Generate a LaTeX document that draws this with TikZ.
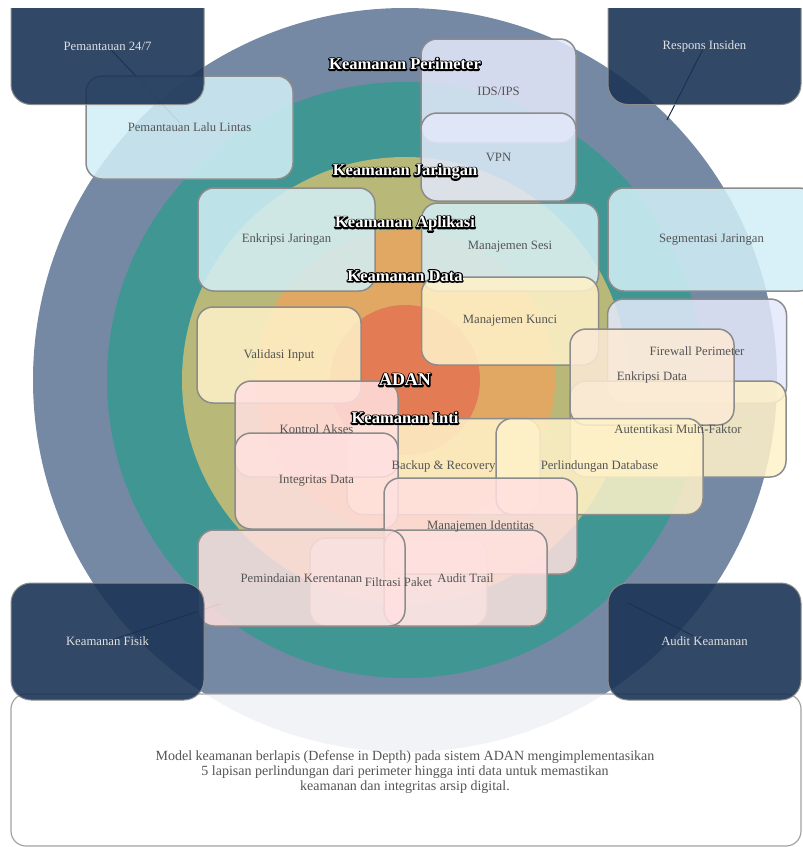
\documentclass[tikz,border=0pt]{standalone}
\usepackage{fontspec}
\setmainfont{Liberation Serif}
\usetikzlibrary{calc}

\definecolor{perimring}{HTML}{7589A4}
\definecolor{netring}{HTML}{3F9693}
\definecolor{appring}{HTML}{B8B878}
\definecolor{dataring}{HTML}{E0A862}
\definecolor{corering}{HTML}{E37C55}
\definecolor{perimfill}{HTML}{E3E8FA}
\definecolor{netfill}{HTML}{D2EFF7}
\definecolor{datafill}{HTML}{FFF2C9}
\definecolor{peachfill}{HTML}{FCEAD6}
\definecolor{corefill}{HTML}{FFE0DF}
\definecolor{opsfill}{HTML}{1C3456}
\definecolor{boxline}{HTML}{8C8C8C}
\definecolor{boxtext}{HTML}{555555}

\pgfdeclarelayer{back}
\pgfsetlayers{back,main}

\tikzset{
  secbox/.style={draw=boxline, line width=1.5pt, rounded corners=16pt,
    fill opacity=0.86, inner sep=0pt},
  perimbox/.style={secbox, fill=perimfill},
  netbox/.style={secbox, fill=netfill},
  databox/.style={secbox, fill=datafill},
  peachbox/.style={secbox, fill=peachfill},
  corebox/.style={secbox, fill=corefill},
  opsbox/.style={draw=boxline, line width=1pt, rounded corners=20pt,
    fill=opsfill, fill opacity=0.9, minimum width=193pt, minimum height=117pt},
  descbox/.style={draw=boxline!80, line width=1.2pt, rounded corners=15pt,
    fill=white, fill opacity=0.9},
  boxlbl/.style={font=\fontsize{12.7}{14}\selectfont, text=boxtext},
  opslbl/.style={font=\fontsize{12.7}{14}\selectfont, text=white!88!black},
  desclbl/.style={font=\fontsize{14}{15}\selectfont, text=boxtext, align=center},
  layerlbl/.style={font=\bfseries\fontsize{16.5}{18}\selectfont},
  link/.style={draw=opsfill!75!black, line width=1pt},
}

% black outline of a text (stroke only), drawn under the white copy
\newcommand\rimtext[1]{\special{pdf:literal direct 1 Tr 2.8 w 1 j 0 0 0 RG}#1\special{pdf:literal direct 0 Tr}}
\newcommand\layerlabel[4][]{%
  \node[layerlbl, #1, text=black] at (#3) {\rimtext{#4}};
  \node[layerlbl, #1, text=white] (#2) at (#3) {#4};}

\begin{document}
\begin{tikzpicture}[x=1pt, y=-1pt]
  \useasboundingbox (0,0) rectangle (803,847);
  \clip (0,0) rectangle (803,847);

  % rings
  \begin{pgfonlayer}{back}
    \coordinate (ctr) at (405,380);
    \fill[perimring] (ctr) circle[radius=372pt];
    \fill[netring] (ctr) circle[radius=298pt];
    \fill[appring] (ctr) circle[radius=223pt];
    \fill[dataring] (ctr) circle[radius=150pt];
    \fill[corering] (ctr) circle[radius=75pt];
  \end{pgfonlayer}

  \node[descbox, minimum width=790pt, minimum height=152pt] (desc) at (406,770) {};

  % layer items
  \node[netbox, minimum width=177pt, minimum height=88pt] (filter) at (398.5,582) {};
  \node[databox, minimum width=193pt, minimum height=96pt] (backup) at (443.5,466.5) {};
  \node[netbox, minimum width=207pt, minimum height=103pt] (traffic) at (189.5,127.5) {};
  \node[perimbox, minimum width=155pt, minimum height=104pt] (ids) at (498.5,91) {};
  \node[perimbox, minimum width=155pt, minimum height=88pt] (vpn) at (498.5,157) {};
  \node[netbox, minimum width=177pt, minimum height=103pt] (netenc) at (286.5,239.5) {};
  \node[netbox, minimum width=207pt, minimum height=103pt] (segment) at (711.5,239.5) {};
  \node[netbox, minimum width=177pt, minimum height=88pt] (session) at (510,247) {};
  \node[databox, minimum width=177pt, minimum height=88pt] (keys) at (510,321) {};
  \node[databox, minimum width=164pt, minimum height=96pt] (input) at (279,355) {};
  \node[perimbox, minimum width=179pt, minimum height=104pt] (firewall) at (697,351) {};
  \node[databox, minimum width=216pt, minimum height=96pt] (mfa) at (678,429) {};
  \node[peachbox, minimum width=164pt, minimum height=96pt] (dataenc) at (652,377) {};
  \node[databox, minimum width=207pt, minimum height=96pt] (dbprot) at (599.5,466.5) {};
  \node[corebox, minimum width=163pt, minimum height=96pt] (access) at (316.5,429) {};
  \node[corebox, minimum width=163pt, minimum height=96pt] (integrity) at (316.5,481) {};
  \node[corebox, minimum width=193pt, minimum height=96pt] (identity) at (480.5,526) {};
  \node[corebox, minimum width=163pt, minimum height=96pt] (audittrail) at (465.5,578) {};
  \node[corebox, minimum width=207pt, minimum height=96pt] (vulnscan) at (301.5,578) {};

  % operations corners
  \begin{scope}
    \clip (0,8) rectangle (803,847);
    \node[opsbox] (monitor) at (107.5,46) {};
    \node[opsbox] (incident) at (704.5,46) {};
  \end{scope}
  \node[opsbox] (physical) at (107.5,641.5) {};
  \node[opsbox] (audit) at (704.5,641.5) {};

  \coordinate (monitor-end) at (180,123);
  \coordinate (incident-end) at (667,120);
  \coordinate (physical-end) at (220,604);
  \coordinate (audit-end) at (628,603);
  \begin{pgfonlayer}{back}
    \draw[link] (monitor.center) -- (monitor-end);
    \draw[link] (incident.center) -- (incident-end);
    \draw[link] (physical.center) -- (physical-end);
    \draw[link] (audit.center) -- (audit-end);
  \end{pgfonlayer}

  % texts
  \node[boxlbl] (filter-t) at (filter) {Filtrasi Paket};
  \node[boxlbl] (backup-t) at (backup) {Backup \& Recovery};
  \node[boxlbl] (traffic-t) at (traffic) {Pemantauan Lalu Lintas};
  \node[boxlbl] (ids-t) at (ids) {IDS/IPS};
  \node[boxlbl] (vpn-t) at (vpn) {VPN};
  \node[boxlbl] (netenc-t) at (netenc) {Enkripsi Jaringan};
  \node[boxlbl] (segment-t) at (segment) {Segmentasi Jaringan};
  \node[boxlbl] (session-t) at (session) {Manajemen Sesi};
  \node[boxlbl] (keys-t) at (keys) {Manajemen Kunci};
  \node[boxlbl] (input-t) at (input) {Validasi Input};
  \node[boxlbl] (firewall-t) at (firewall) {Firewall Perimeter};
  \node[boxlbl] (mfa-t) at (mfa) {Autentikasi Multi-Faktor};
  \node[boxlbl] (dataenc-t) at (dataenc) {Enkripsi Data};
  \node[boxlbl] (dbprot-t) at (dbprot) {Perlindungan Database};
  \node[boxlbl] (access-t) at (access) {Kontrol Akses};
  \node[boxlbl] (integrity-t) at (integrity) {Integritas Data};
  \node[boxlbl] (identity-t) at (identity) {Manajemen Identitas};
  \node[boxlbl] (audittrail-t) at (audittrail) {Audit Trail};
  \node[boxlbl] (vulnscan-t) at (vulnscan) {Pemindaian Kerentanan};

  \node[opslbl] (monitor-t) at (107.5,46) {Pemantauan 24/7};
  \node[opslbl] (incident-t) at (incident) {Respons Insiden};
  \node[opslbl] (physical-t) at (physical) {Keamanan Fisik};
  \node[opslbl] (audit-t) at (audit) {Audit Keamanan};

  \node[desclbl] (desc-t) at (405,772) {Model keamanan berlapis (Defense in Depth) pada sistem ADAN mengimplementasikan\\
    5 lapisan perlindungan dari perimeter hingga inti data untuk memastikan\\
    keamanan dan integritas arsip digital.};

  % layer names
  \layerlabel{perim-l}{405,64}{Keamanan Perimeter}
  \layerlabel{net-l}{405,172}{Keamanan Jaringan}
  \layerlabel{app-l}{405,224}{Keamanan Aplikasi}
  \layerlabel{data-l}{405,276}{Keamanan Data}
  \layerlabel[font=\bfseries\fontsize{18}{19}\selectfont]{adan-l}{405,380}{ADAN}
  \layerlabel{core-l}{405,418}{Keamanan Inti}
\end{tikzpicture}
\end{document}
